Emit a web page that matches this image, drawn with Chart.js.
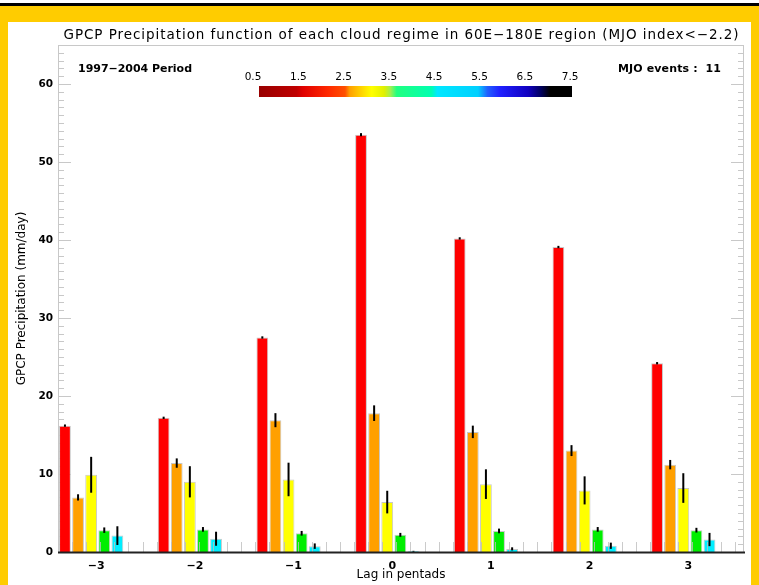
<!DOCTYPE html>
<html>
<head>
<meta charset="utf-8">
<title>GPCP Precipitation by cloud regime</title>
<script src="https://cdn.jsdelivr.net/npm/chart.js@4.4.0/dist/chart.umd.min.js"></script>
<style>
    html, body { margin: 0; padding: 0; }
    body { width: 759px; height: 585px; background: #ffcc00; position: relative; overflow: hidden; }
    #topLine { position: absolute; left: 0; top: 0; width: 759px; height: 3px; background: #fff; border-bottom: 3px solid #000; }
    #panel { position: absolute; left: 8px; top: 22px; width: 743px; height: 563px; background: #fff; }
</style>
</head>
<body>
<div id="topLine"></div>
<div id="panel"><canvas id="myChart" width="743" height="563"></canvas></div>
<script>
// lag (pentads) for each group of bars
var lagLabels = [-3, -2, -1, 0, 1, 2, 3];

// precipitation (mm/day) per cloud regime, and the half length of each error bar
var redValues = [16.2, 17.2, 27.5, 53.5, 40.2, 39.1, 24.2];
var redErrors = [0.15, 0.15, 0.15, 0.2, 0.15, 0.15, 0.15];
var orangeValues = [7.0, 11.4, 16.9, 17.8, 15.4, 13.0, 11.2];
var orangeErrors = [0.4, 0.6, 0.9, 1.0, 0.8, 0.7, 0.6];
var yellowValues = [9.9, 9.0, 9.3, 6.4, 8.7, 7.9, 8.2];
var yellowErrors = [2.3, 2.0, 2.15, 1.45, 1.9, 1.8, 1.9];
var greenValues = [2.8, 2.9, 2.4, 2.2, 2.7, 2.9, 2.8];
var greenErrors = [0.35, 0.3, 0.3, 0.25, 0.3, 0.3, 0.3];
var cyanValues = [2.1, 1.7, 0.75, 0.1, 0.4, 0.8, 1.6];
var cyanErrors = [1.2, 0.9, 0.35, 0.05, 0.2, 0.4, 0.85];

var barColors = ["#ff0000", "#ffa000", "#ffff00", "#00ee00", "#00eeff"];

// y ticks and colour bar text
var yTicks = [0, 10, 20, 30, 40, 50, 60];
var colorBarLabels = ["0.5", "1.5", "2.5", "3.5", "4.5", "5.5", "6.5", "7.5"];
var colorBarStops = [
    [0.00, "#980000"], [0.12, "#c00000"], [0.14, "#e00000"], [0.22, "#ff2800"],
    [0.275, "#ff5000"], [0.29, "#ffa000"], [0.33, "#ffd800"], [0.36, "#ffff00"],
    [0.40, "#e0f000"], [0.42, "#a0f050"], [0.44, "#20ff80"], [0.55, "#00ffb0"],
    [0.57, "#00e8ff"], [0.70, "#00d0ff"], [0.73, "#2060ff"], [0.77, "#2020ff"],
    [0.86, "#1000c0"], [0.90, "#000060"], [0.93, "#000000"], [1.00, "#000000"]
];

var allValues = [redValues, orangeValues, yellowValues, greenValues, cyanValues];
var allErrors = [redErrors, orangeErrors, yellowErrors, greenErrors, cyanErrors];

var xMin = -3.336;
var xMax = 3.615;
var yMax = 65;
var fontName = "'DejaVu Sans', sans-serif";

function makeDataset(values, color) {
    return {
        data: lagLabels.map(function (lag, i) { return { x: lag, y: values[i] }; }),
        backgroundColor: color,
        borderColor: "#c8c8c8",
        borderWidth: 1,
        borderSkipped: "bottom",
        categoryPercentage: 0.664,
        barPercentage: 0.9
    };
}

// draws text stretched to a given width (IDL fonts are wide)
function drawFitted(c, text, x, y, width, font) {
    c.font = font;
    c.letterSpacing = "0px";
    var w = c.measureText(text).width;
    var extra = (width - w) / Math.max(text.length - 1, 1);
    c.letterSpacing = extra + "px";
    c.textAlign = "left";
    c.textBaseline = "alphabetic";
    c.fillText(text, x, y);
    c.letterSpacing = "0px";
}

//Error bars
var errorBars = {
    id: "errorBars",
    afterDatasetsDraw: function (chart) {
        var c = chart.ctx;
        var yScale = chart.scales.y;
        c.save();
        c.strokeStyle = "#000";
        c.lineWidth = 2;
        allErrors.forEach(function (errs, i) {
            var meta = chart.getDatasetMeta(i);
            meta.data.forEach(function (bar, j) {
                var v = allValues[i][j];
                c.beginPath();
                c.moveTo(bar.x, yScale.getPixelForValue(Math.max(v - errs[j], 0)));
                c.lineTo(bar.x, yScale.getPixelForValue(v + errs[j]));
                c.stroke();
            });
        });
        c.restore();
    }
};

//Inside tick marks and frame
var frameTicks = {
    id: "frameTicks",
    beforeDatasetsDraw: function (chart) {
        var c = chart.ctx;
        var a = chart.chartArea;
        var yScale = chart.scales.y;
        c.save();
        c.strokeStyle = "#c8c8c8";
        c.lineWidth = 1;
        c.beginPath();
        c.moveTo(a.left, a.top + 0.5);
        c.lineTo(a.right, a.top + 0.5);
        c.moveTo(a.left + 0.5, a.top);
        c.lineTo(a.left + 0.5, a.bottom);
        c.moveTo(a.right - 0.5, a.top);
        c.lineTo(a.right - 0.5, a.bottom);
        for (var v = 1; v <= yMax; v++) {
            var py = Math.round(yScale.getPixelForValue(v)) + 0.5;
            var len = (v % 10 === 0) ? 13 : 6;
            c.moveTo(a.left, py);
            c.lineTo(a.left + len, py);
            c.moveTo(a.right, py);
            c.lineTo(a.right - len, py);
        }
        c.stroke();
        c.restore();
    },
    afterDatasetsDraw: function (chart) {
        var c = chart.ctx;
        var a = chart.chartArea;
        var xScale = chart.scales.x;
        c.save();
        c.strokeStyle = "rgba(190,190,190,0.8)";
        c.lineWidth = 1;
        c.beginPath();
        for (var k = 1; xMin + k / 7 < xMax; k++) {
            var px = Math.round(xScale.getPixelForValue(xMin + k / 7)) + 0.5;
            c.moveTo(px, a.bottom);
            c.lineTo(px, a.bottom - 10);
        }
        c.stroke();
        // bottom axis line
        c.strokeStyle = "#222";
        c.lineWidth = 2;
        c.beginPath();
        c.moveTo(a.left, a.bottom + 0.5);
        c.lineTo(a.right + 1, a.bottom + 0.5);
        c.stroke();
        c.restore();
    }
};

//Title, notes and colour bar
var annotations = {
    id: "annotations",
    afterDraw: function (chart) {
        var c = chart.ctx;
        var a = chart.chartArea;
        c.save();
        c.fillStyle = "#000";
        var title = "GPCP Precipitation function of each cloud regime in 60E\u2212180E region (MJO index<\u22122.2)";
        var mid = (a.left + a.right) / 2;
        drawFitted(c, title, mid - 337.5, 17, 675, "13.5px " + fontName);
        drawFitted(c, "1997\u22122004 Period", 70, 50, 114, "bold 11px " + fontName);
        drawFitted(c, "MJO events :  11", 610, 50, 103, "bold 11px " + fontName);

        // colour bar
        var bx = 251, by = 64, bw = 313, bh = 11;
        var grad = c.createLinearGradient(bx, 0, bx + bw, 0);
        colorBarStops.forEach(function (s) { grad.addColorStop(s[0], s[1]); });
        c.fillStyle = grad;
        c.fillRect(bx, by, bw, bh);
        c.fillStyle = "#000";
        c.font = "10.5px " + fontName;
        c.textAlign = "center";
        c.textBaseline = "alphabetic";
        colorBarLabels.forEach(function (t, i) {
            c.fillText(t, 245 + i * 45.3, 58);
        });
        c.restore();
    }
};

//Chart
var myChart = document.getElementById("myChart").getContext("2d");
var precipChart = new Chart(myChart, {
    type: "bar",
    data: {
        datasets: allValues.map(function (vals, i) { return makeDataset(vals, barColors[i]); })
    },
    options: {
        responsive: false,
        animation: false,
        layout: { padding: { top: 23, right: 7, left: 0, bottom: 0 } },
        plugins: {
            legend: { display: false },
            tooltip: { enabled: false },
            title: { display: false }
        },
        scales: {
            x: {
                type: "linear",
                min: xMin,
                max: xMax,
                offset: false,
                grid: { display: false, drawTicks: false },
                border: { display: false },
                ticks: {
                    stepSize: 1,
                    includeBounds: false,
                    labelOffset: 5,
                    padding: 8,
                    color: "#000",
                    font: { family: fontName, size: 11, weight: "bold" },
                    callback: function (v) { return v < 0 ? "\u2212" + Math.abs(v) : String(v); }
                },
                title: {
                    display: true,
                    text: "Lag in pentads",
                    color: "#000",
                    font: { family: fontName, size: 12 },
                    padding: { top: 0, bottom: 3 }
                },
                afterFit: function (scale) { scale.height = 33; }
            },
            y: {
                min: 0,
                max: yMax,
                grid: { display: false, drawTicks: false },
                border: { display: false },
                afterBuildTicks: function (scale) {
                    scale.ticks = yTicks.map(function (v) { return { value: v }; });
                },
                ticks: {
                    padding: 5,
                    color: "#000",
                    font: { family: fontName, size: 10.5, weight: "bold" }
                },
                title: {
                    display: true,
                    text: "GPCP Precipitation (mm/day)",
                    color: "#000",
                    font: { family: fontName, size: 12 },
                    padding: { top: 7, bottom: 0 }
                },
                afterFit: function (scale) { scale.width = 50; }
            }
        }
    },
    plugins: [frameTicks, errorBars, annotations]
});
//End Chart
</script>
</body>
</html>
